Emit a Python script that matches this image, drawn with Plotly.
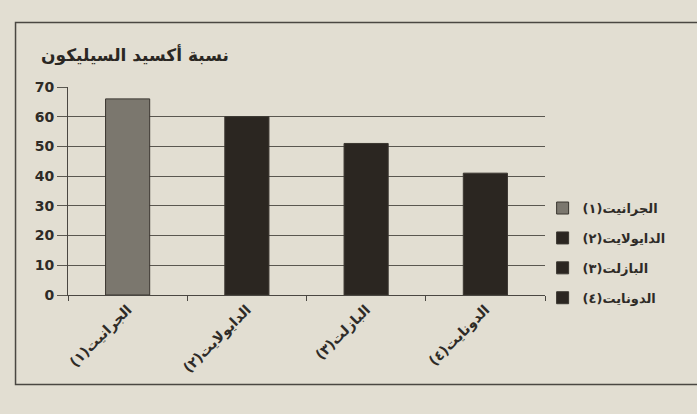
import plotly.graph_objects as go

categories = ["الجرانيت(١)", "الدايولايت(٢)", "البازلت(٣)", "الدونايت(٤)"]
values = [66, 60, 51, 41]
colors = ["#7b776e", "#2b2621", "#2b2621", "#2b2621"]
title_text = "نسبة أكسيد السيليكون"
y_ticks = [0, 10, 20, 30, 40, 50, 60, 70]

RLM = "\u200f"
labels = ["<b>" + c + RLM + "</b>" for c in categories]

fig = go.Figure()
for i, (lab, v, col) in enumerate(zip(labels, values, colors)):
    fig.add_trace(go.Bar(
        x=[lab], y=[v], name=lab, marker=dict(color=col, line=dict(color="#3a3630", width=1)),
        width=0.37, offsetgroup="a", legendgroup=f"g{i}", showlegend=True,
    ))

bg = "#e2ded2"
fig.update_layout(
    width=697, height=414,
    margin=dict(l=68, r=152, t=87, b=119),
    paper_bgcolor=bg, plot_bgcolor=bg,
    barmode="overlay",
    font=dict(family="DejaVu Sans", color="#2e2b27"),
    showlegend=True,
    legend=dict(x=0.995, y=0.49, xanchor="left", yanchor="top",
                traceorder="grouped", tracegroupgap=10, itemwidth=30,
                font=dict(size=13, family="DejaVu Sans", color="#2e2b27"),
                bgcolor="rgba(0,0,0,0)"),
    xaxis=dict(categoryorder="array", categoryarray=labels, tickangle=-45,
               tickfont=dict(size=14, family="DejaVu Sans", color="#2e2b27"),
               showline=True, linecolor="#4a4742", linewidth=1,
               ticks="outside", tickson="boundaries", ticklen=5, tickcolor="#4a4742",
               showgrid=False),
    yaxis=dict(range=[0, 70], tickmode="array", tickvals=y_ticks,
               ticktext=["<b>%d</b>" % t for t in y_ticks],
               showgrid=True, gridcolor="#5a5750", gridwidth=1,
               showline=True, linecolor="#4a4742", linewidth=1,
               ticks="outside", ticklen=10, tickcolor="#5a5750",
               tickfont=dict(size=14, family="DejaVu Sans", color="#2e2b27"),
               zeroline=False),
)

fig.add_shape(type="rect", xref="paper", yref="paper",
              x0=-0.11, x1=1.33, y0=-0.43, y1=1.31,
              line=dict(color="#4a4742", width=1.5), layer="below")

fig.add_annotation(text="<b>" + title_text + "</b>", xref="paper", yref="paper",
                   x=-0.06, y=1.155, xanchor="left", yanchor="middle", showarrow=False,
                   font=dict(size=17, family="DejaVu Sans", color="#2a2723"))

fig.write_html("out.html", config={"displayModeBar": False},
               post_script="document.body.style.margin='0';document.body.style.background='#e2ded2';")
